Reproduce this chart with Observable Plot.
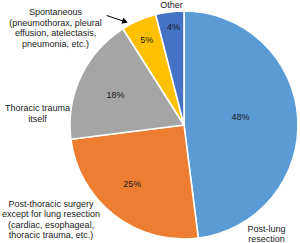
<!DOCTYPE html>
<html><head><meta charset="utf-8">
<script src="https://cdn.jsdelivr.net/npm/d3@7"></script>
<script src="https://cdn.jsdelivr.net/npm/@observablehq/plot@0.6"></script>
<style>body{margin:0;background:#fff} svg{display:block}</style>
</head><body><div id="chart"></div>
<script>
const categories = ["Post-lung resection", "Post-thoracic surgery except for lung resection", "Thoracic trauma itself", "Spontaneous", "Other"];
const values = [48, 25, 18, 5, 4];
const valueLabels = ["48%", "25%", "18%", "5%", "4%"];
const categoryLabels = [
  "Post-lung\nresection",
  "Post-thoracic surgery\nexcept for lung resection\n(cardiac, esophageal,\nthoracic trauma, etc.)",
  "Thoracic trauma\nitself",
  "Spontaneous\n(pneumothorax, pleural\neffusion, atelectasis,\npneumonia, etc.)",
  "Other"
];
const colors = ["#5B9BD5", "#ED7D31", "#A5A5A5", "#FFC000", "#4472C4"];

// layout (pie geometry and label placement in polar terms around the pie)
const W = 300, H = 243, CX = 184, CY = 125, R = 114;
const LINE = 10.6, FS = 9;
const insidePolar = [[81.9, 0.497], [221.9, 0.686], [294, 0.663], [336, 0.816], [353.6, 0.865]];
const outsidePolar = [[142.9, 1.193], [234.8, 1.432], [274.6, 1.294], [307.1, 1.418], [353.8, 1.059]];
const arrowFrom = [324.7, 1.183], arrowTo = [331, 1.033];
const font = "Liberation Sans, Arial, Helvetica, sans-serif";

const color = Plot.scale({color: {domain: categories, range: colors}});
const data = categories.map((c, i) => ({category: c, value: values[i], pct: valueLabels[i], label: categoryLabels[i]}));
const arcs = d3.pie().sort(null).value(d => d.value)(data);
const polar = (deg, k) => [CX + k * R * Math.sin(deg * Math.PI / 180), CY - k * R * Math.cos(deg * Math.PI / 180)];

const ctx = document.createElement("canvas").getContext("2d");
ctx.font = `${FS}px ${font}`;

const inside = data.map((d, i) => {
  const [x, y] = polar(...insidePolar[i]);
  return {x, y, text: d.pct};
});
const outside = data.flatMap((d, i) => {
  const [x, y] = polar(...outsidePolar[i]);
  const lines = d.label.split("\n");
  return lines.map((t, j) => ({
    x: Math.max(0.5, x - ctx.measureText(t).width / 2),
    y: y + (j - (lines.length - 1) / 2) * LINE,
    text: t
  }));
});

// annotation arrow for the small "Spontaneous" slice
const [ax1, ay1] = polar(...arrowFrom), [ax2, ay2] = polar(...arrowTo);
const alen = Math.hypot(ax2 - ax1, ay2 - ay1), ux = (ax2 - ax1) / alen, uy = (ay2 - ay1) / alen;
const headBack = 3.4;
const head = [{x: ax2 - ux * headBack, y: ay2 - uy * headBack}];
const headRotate = Math.atan2(uy, ux) * 180 / Math.PI + 90;

function pieMark() {
  const g = d3.create("svg:g").attr("transform", `translate(${CX},${CY})`);
  const arc = d3.arc().innerRadius(0).outerRadius(R);
  g.selectAll("path").data(arcs).join("path")
    .attr("d", arc)
    .attr("fill", d => color.apply(d.data.category))
    .attr("stroke", "#fff").attr("stroke-width", 1.6).attr("stroke-linejoin", "round");
  return g.node();
}

const chart = Plot.plot({
  width: W, height: H, margin: 0,
  x: {type: "identity"}, y: {type: "identity"},
  style: {background: "#fff", fontFamily: font},
  marks: [
    pieMark,
    Plot.text(inside, {x: "x", y: "y", text: "text", fontSize: 9, fill: "#1a1a1a", fontFamily: font}),
    Plot.text(outside, {x: "x", y: "y", text: "text", fontSize: FS, textAnchor: "start", fill: "#1a1a1a", fontFamily: font}),
    Plot.link([{x1: ax1, y1: ay1, x2: head[0].x, y2: head[0].y}], {x1: "x1", y1: "y1", x2: "x2", y2: "y2", stroke: "#000", strokeWidth: 1}),
    Plot.dot(head, {x: "x", y: "y", symbol: "triangle", r: 2.4, fill: "#000", stroke: "none", rotate: headRotate})
  ]
});
document.getElementById("chart").append(chart);
</script>
</body></html>
